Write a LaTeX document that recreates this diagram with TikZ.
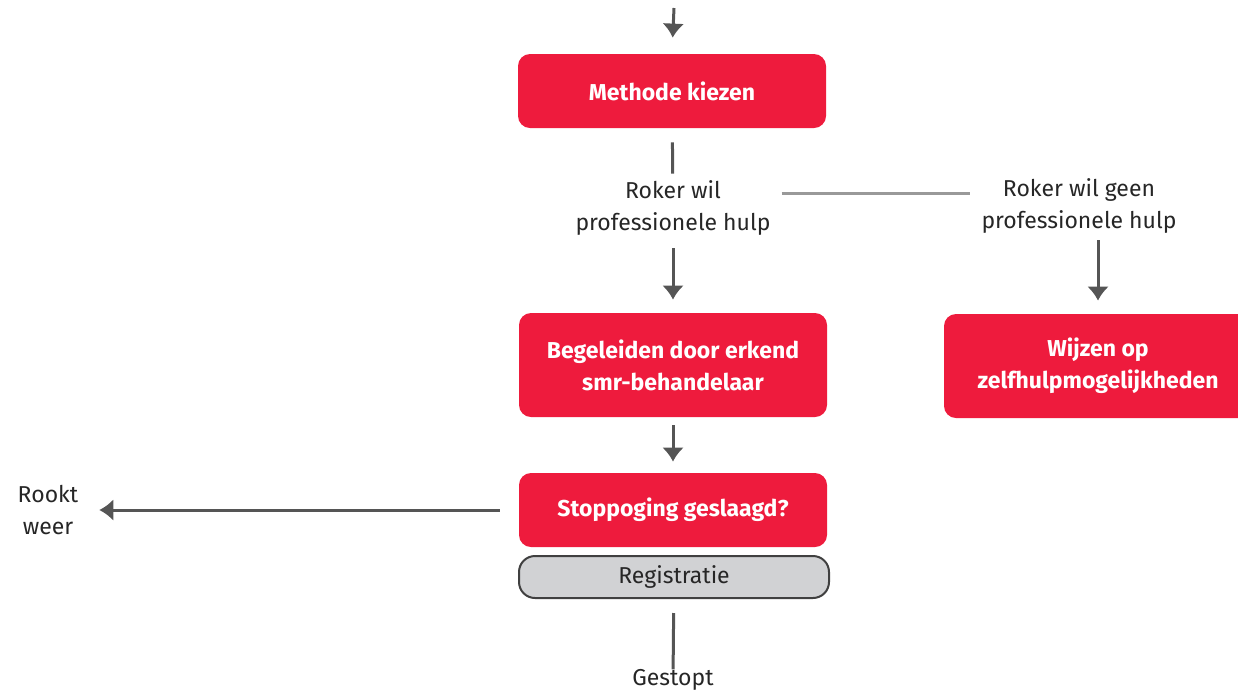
\documentclass[tikz,border=0pt]{standalone}
\usepackage{fontspec}
\setmainfont{Fira Sans}
\usetikzlibrary{arrows.meta}
\definecolor{smrred}{HTML}{EE1B3D}
\definecolor{reggrey}{HTML}{D1D2D4}
\definecolor{lijn}{HTML}{555555}
\newcommand{\stap}[5]{\node[fill=smrred,rounded corners=6pt,minimum width=154pt,minimum height=#4pt,align=center,text=white,font=\fontsize{11.5}{16}\selectfont\bfseries] (#1) at (#2,#3) {#5};}
\newcommand{\tekst}[4]{\node[align=center,text=black!85,font=\fontsize{11.5}{16}\selectfont] (#1) at (#2,#3) {#4};}
\newcommand{\pijl}[4]{\draw[lijn,line width=1.5pt,-{Latex[width=11pt,length=7pt]},shorten <=#3pt,shorten >=#4pt] (#1) -- (#2);}
\newcommand{\lijntje}[4]{\draw[lijn,line width=1.5pt,shorten <=#3pt,shorten >=#4pt] (#1) -- (#2);}

\begin{document}
\begin{tikzpicture}[x=0.5pt,y=-0.5pt]
    \useasboundingbox (0,0) rectangle (1238,692);
    \coordinate (begin) at (674,8);
    \stap{kiezen}{672}{91}{37}{Methode kiezen}
    \tekst{wel}{673}{208}{Roker wil\\professionele hulp}
    \tekst{geen}{1079}{206}{Roker wil geen\\professionele hulp}
    \stap{begeleiden}{673}{365}{52}{Begeleiden door erkend\\smr-behandelaar}
    \stap{wijzen}{1098}{366}{52}{Wijzen op\\zelfhulpmogelijkheden}
    \stap{stoppoging}{673}{510}{37}{Stoppoging geslaagd?}
    \node[draw=black!75,line width=1pt,fill=reggrey,rounded corners=8pt,minimum width=155pt,minimum height=21pt,text=black!85,font=\fontsize{11.5}{16}\selectfont] (registratie) at (674,577) {Registratie};
    \tekst{rookt}{48}{510}{Rookt\\weer}    \tekst{gestopt}{673}{680}{Gestopt}
    \pijl{begin}{kiezen.north}{0}{8}
    \lijntje{kiezen}{wel}{7}{0}
    \draw[lijn!60,line width=1.5pt,shorten <=2pt,shorten >=2pt] ([yshift=7.5pt]wel.east) -- ([yshift=7.5pt]wel.east -| geen.west);
    \pijl{wel}{begeleiden}{3}{6.5}
    \pijl{geen.south -| wijzen.north}{wijzen.north}{0}{6.5}
    \pijl{begeleiden}{stoppoging}{4}{5.5}
    \pijl{stoppoging}{rookt}{9.5}{7}
    \lijntje{registratie}{gestopt}{7}{-3.5}
\end{tikzpicture}
\end{document}
